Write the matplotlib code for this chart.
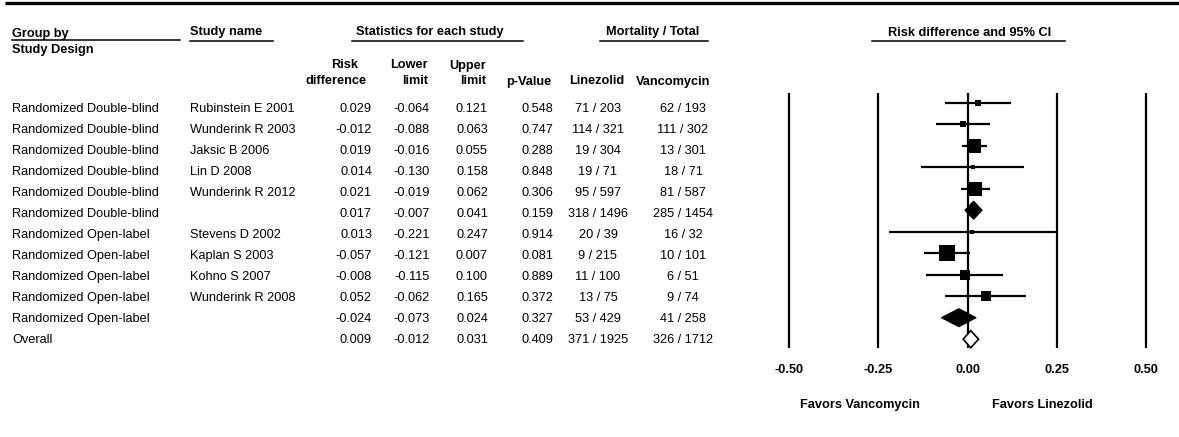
import matplotlib
matplotlib.use("Agg")
import matplotlib.pyplot as plt
from matplotlib import font_manager
import numpy as np

# ---------------- data ----------------
groups = ["Randomized Double-blind"] * 6 + ["Randomized Open-label"] * 5 + ["Overall"]
studies = ["Rubinstein E 2001", "Wunderink R 2003", "Jaksic B 2006", "Lin D 2008",
           "Wunderink R 2012", "", "Stevens D 2002", "Kaplan S 2003", "Kohno S 2007",
           "Wunderink R 2008", "", ""]
risk_diff = [0.029, -0.012, 0.019, 0.014, 0.021, 0.017, 0.013, -0.057, -0.008, 0.052, -0.024, 0.009]
lower = [-0.064, -0.088, -0.016, -0.130, -0.019, -0.007, -0.221, -0.121, -0.115, -0.062, -0.073, -0.012]
upper = [0.121, 0.063, 0.055, 0.158, 0.062, 0.041, 0.247, 0.007, 0.100, 0.165, 0.024, 0.031]
p_values = [0.548, 0.747, 0.288, 0.848, 0.306, 0.159, 0.914, 0.081, 0.889, 0.372, 0.327, 0.409]
linezolid = ["71 / 203", "114 / 321", "19 / 304", "19 / 71", "95 / 597", "318 / 1496",
             "20 / 39", "9 / 215", "11 / 100", "13 / 75", "53 / 429", "371 / 1925"]
vancomycin = ["62 / 193", "111 / 302", "13 / 301", "18 / 71", "81 / 587", "285 / 1454",
              "16 / 32", "10 / 101", "6 / 51", "9 / 74", "41 / 258", "326 / 1712"]
# row type: study / subgroup summary / overall summary
row_kind = ["study"] * 5 + ["subgroup"] + ["study"] * 4 + ["subgroup", "overall"]
# relative weight (%) within subgroup, studies only (sets square size)
weights = [6.7, 10.1, 44.0, 2.8, 42.0, None, 4.3, 57.2, 20.4, 18.2, None, None]
tick_values = [-0.50, -0.25, 0.00, 0.25, 0.50]
tick_labels = ["-0.50", "-0.25", "0.00", "0.25", "0.50"]

# ---------------- fonts ----------------
names = {f.name for f in font_manager.fontManager.ttflist}
if "Liberation Sans Narrow" in names:
    FAM = ["Liberation Sans Narrow", "DejaVu Sans"]
    FS = 11
else:
    FAM = ["Liberation Sans", "DejaVu Sans"]
    FS = 9.2
plt.rcParams["font.family"] = FAM

W, H = 1179, 437
fig = plt.figure(figsize=(W / 100, H / 100), dpi=100)
fig.patch.set_facecolor("white")

# text layer in pixel coordinates
tax = fig.add_axes([0, 0, 1, 1])
tax.set_xlim(0, W)
tax.set_ylim(H, 0)
tax.axis("off")

# forest plot axes
px0, px1 = 771, 1164
py0, py1 = 80, 360
ax = fig.add_axes([px0 / W, 1 - py1 / H, (px1 - px0) / W, (py1 - py0) / H])
ax.set_xlim(-0.55, 0.55)
row0_px, pitch_px = 102.7, 21.5
ax.set_ylim((py1 - row0_px) / pitch_px, (py0 - row0_px) / pitch_px)
ax.axis("off")

# top rule
tax.plot([5, W], [2.5, 2.5], color="black", lw=2.4, solid_capstyle="butt")

# ---------------- headers ----------------
bold = dict(fontsize=FS, fontweight="bold", color="black")
tax.text(12, 36.5, "Group by", ha="left", va="baseline", **bold)
tax.text(12, 53.5, "Study Design", ha="left", va="baseline", **bold)
tax.plot([12, 180], [39.8, 39.8], color="black", lw=1.1)
tax.text(190, 34.5, "Study name", ha="left", va="baseline", **bold)
tax.plot([190, 273], [40.7, 40.7], color="black", lw=1.1)
tax.text(429.5, 34.5, "Statistics for each study", ha="center", va="baseline", **bold)
tax.plot([352, 523], [40.7, 40.7], color="black", lw=1.1)
tax.text(652.5, 34.5, "Mortality / Total", ha="center", va="baseline", **bold)
tax.plot([600, 708], [40.7, 40.7], color="black", lw=1.1)
tax.text(969.5, 35.5, "Risk difference and 95% CI", ha="center", va="baseline", **bold)
tax.plot([872, 1065], [40.7, 40.7], color="black", lw=1.1)

tax.text(345, 68.5, "Risk", ha="center", va="baseline", **bold)
tax.text(367, 84.5, "difference", ha="right", va="baseline", **bold)
tax.text(428, 68.5, "Lower", ha="right", va="baseline", **bold)
tax.text(428, 84.5, "limit", ha="right", va="baseline", **bold)
tax.text(486, 68.5, "Upper", ha="right", va="baseline", **bold)
tax.text(486, 84.5, "limit", ha="right", va="baseline", **bold)
tax.text(551, 84.5, "p-Value", ha="right", va="baseline", **bold)
tax.text(597, 84.5, "Linezolid", ha="center", va="baseline", **bold)
tax.text(673.5, 84.5, "Vancomycin", ha="center", va="baseline", **bold)

# ---------------- table rows ----------------
reg = dict(fontsize=FS, color="black", va="baseline")
text_base0, text_pitch = 111.5, 21.05
for i in range(len(groups)):
    yb = text_base0 + i * text_pitch
    tax.text(12, yb, groups[i], ha="left", **reg)
    if studies[i]:
        tax.text(190, yb, studies[i], ha="left", **reg)
    tax.text(372, yb, f"{risk_diff[i]:.3f}", ha="right", **reg)
    tax.text(430, yb, f"{lower[i]:.3f}", ha="right", **reg)
    tax.text(488, yb, f"{upper[i]:.3f}", ha="right", **reg)
    tax.text(553, yb, f"{p_values[i]:.3f}", ha="right", **reg)
    tax.text(598, yb, linezolid[i], ha="center", **reg)
    tax.text(683, yb, vancomycin[i], ha="center", **reg)

# ---------------- forest plot ----------------
n = len(risk_diff)
y_top, y_bot = (93 - row0_px) / pitch_px, (348 - row0_px) / pitch_px
ax.vlines(tick_values, y_top, y_bot, color="black", lw=1.6, clip_on=False)

px_per_pt = 100 / 72
for i in range(n):
    if row_kind[i] == "study":
        ax.plot([lower[i], upper[i]], [i, i], color="black", lw=1.6,
                solid_capstyle="butt", zorder=3, clip_on=False)
        side_px = 2.12 * np.sqrt(weights[i])
        ax.plot(risk_diff[i], i, marker="s", color="black", markersize=side_px / px_per_pt,
                markeredgewidth=0, zorder=4, clip_on=False)
    else:
        hh = 0.42 if row_kind[i] == "subgroup" else 0.40
        xs = [lower[i], risk_diff[i], upper[i], risk_diff[i]]
        ys = [i, i - hh, i, i + hh]
        if row_kind[i] == "overall":
            ax.fill(xs, ys, facecolor="white", edgecolor="black", lw=1.2, zorder=4, clip_on=False)
        else:
            ax.fill(xs, ys, facecolor="black", edgecolor="black", lw=0.8, zorder=4, clip_on=False)

# tick labels under the plot
for v, lab in zip(tick_values, tick_labels):
    xpix = px0 + (v + 0.55) / 1.1 * (px1 - px0)
    tax.text(xpix, 370, lab, ha="center", va="center", **bold)

tax.text(860, 405, "Favors Vancomycin", ha="center", va="center", **bold)
tax.text(1042, 405, "Favors Linezolid", ha="center", va="center", **bold)

fig.savefig("out.png", dpi=100, facecolor="white")
